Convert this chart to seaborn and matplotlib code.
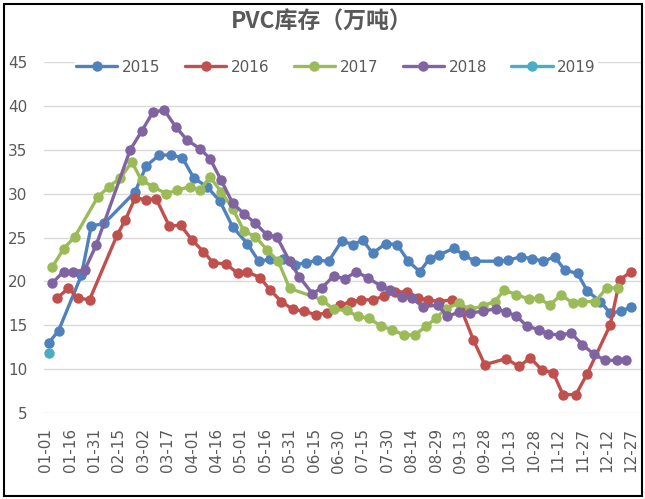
import pandas as pd
import seaborn as sns
import matplotlib.pyplot as plt
from matplotlib.lines import Line2D
from matplotlib.patches import Rectangle

# day of year (0 = 01-01) for each observation, and stock in 10k tons
days_2015 = [2, 8, 22, 28, 36, 55, 62, 70, 77, 84, 91, 99, 107, 115, 124, 131, 138, 146, 153, 160,
             167, 174, 182, 189, 195, 201, 209, 216, 223, 230, 236, 242, 251, 257, 264, 278, 284, 292,
             299, 306, 313, 319, 327, 333, 341, 347, 354, 360]
vals_2015 = [13.0, 14.4, 20.7, 26.3, 26.6, 30.2, 33.2, 34.4, 34.4, 34.1, 31.8, 30.8, 29.2, 26.2, 24.3, 22.3,
             22.5, 22.6, 21.9, 22.1, 22.4, 22.3, 24.6, 24.2, 24.7, 23.2, 24.3, 24.2, 22.3, 21.1, 22.6, 23.0,
             23.8, 23.0, 22.3, 22.3, 22.4, 22.8, 22.6, 22.3, 22.8, 21.3, 20.9, 18.9, 17.7, 16.4, 16.6, 17.1]

days_2016 = [7, 14, 20, 27, 44, 49, 55, 62, 68, 76, 83, 90, 97, 103, 111, 118, 124, 132, 138, 145,
             152, 159, 166, 173, 181, 188, 194, 201, 208, 215, 222, 229, 235, 242, 250, 256, 263, 270,
             283, 291, 298, 305, 312, 318, 326, 333, 347, 353, 360]
vals_2016 = [18.1, 19.2, 18.1, 17.9, 25.3, 27.0, 29.5, 29.3, 29.4, 26.3, 26.4, 24.7, 23.4, 22.1, 22.0, 20.9,
             21.1, 20.4, 19.0, 17.7, 16.8, 16.6, 16.2, 16.4, 17.3, 17.7, 17.9, 17.9, 18.3, 18.8, 18.8, 18.1,
             17.9, 17.7, 17.9, 16.6, 13.3, 10.5, 11.2, 10.3, 11.3, 9.9, 9.6, 7.1, 7.1, 9.5, 15.0, 20.2, 21.1]

days_2017 = [4, 11, 18, 32, 39, 46, 53, 59, 66, 74, 81, 89, 95, 101, 108, 115, 122, 129, 136, 143,
             150, 170, 177, 185, 192, 199, 206, 213, 220, 227, 234, 240, 246, 254, 261, 269, 276, 282,
             289, 297, 303, 310, 317, 324, 330, 338, 345, 352]
vals_2017 = [21.6, 23.7, 25.1, 29.6, 30.8, 31.8, 33.6, 31.5, 30.8, 30.0, 30.4, 30.8, 30.4, 31.9, 30.2, 28.3,
             25.7, 25.1, 23.6, 22.3, 19.2, 17.9, 16.8, 16.7, 16.0, 15.8, 14.9, 14.5, 13.9, 13.9, 14.9, 15.8,
             16.9, 17.5, 16.8, 17.2, 17.7, 19.0, 18.5, 18.0, 18.1, 17.3, 18.5, 17.5, 17.7, 17.7, 19.3, 19.2]

days_2018 = [4, 11, 17, 24, 31, 52, 59, 66, 73, 80, 87, 95, 101, 108, 115, 122, 129, 136, 142, 150,
             156, 164, 170, 177, 184, 191, 198, 206, 212, 219, 225, 232, 241, 247, 254, 261, 269, 277,
             283, 289, 296, 303, 309, 316, 323, 330, 337, 344, 351, 357]
vals_2018 = [19.8, 21.1, 21.1, 21.3, 24.1, 35.0, 37.1, 39.3, 39.5, 37.6, 36.1, 35.1, 34.0, 31.5, 28.9, 27.7,
             26.6, 25.3, 25.1, 22.3, 20.5, 18.6, 19.3, 20.6, 20.3, 21.1, 20.4, 19.5, 19.0, 18.2, 18.1, 17.1,
             17.3, 16.0, 16.5, 16.4, 16.6, 16.9, 16.5, 16.1, 14.9, 14.5, 14.0, 13.9, 14.1, 12.8, 11.7, 11.0,
             11.0, 11.0]

days_2019 = [2]
vals_2019 = [11.8]

years = ["2015", "2016", "2017", "2018", "2019"]
colors = ["#4F81BD", "#C0504D", "#9BBB59", "#8064A2", "#4BACC6"]
tick_labels = ["01-01", "01-16", "01-31", "02-15", "03-02", "03-17", "04-01", "04-16", "05-01",
               "05-16", "05-31", "06-15", "06-30", "07-15", "07-30", "08-14", "08-29", "09-13",
               "09-28", "10-13", "10-28", "11-12", "11-27", "12-12", "12-27"]

base = pd.Timestamp("2019-01-01")
frames = []
for y, d, v in zip(years, [days_2015, days_2016, days_2017, days_2018, days_2019],
                   [vals_2015, vals_2016, vals_2017, vals_2018, vals_2019]):
    frames.append(pd.DataFrame({"date": base + pd.to_timedelta(d, unit="D"), "value": v, "year": y}))
df = pd.concat(frames, ignore_index=True)

sns.set_theme(style="white")
plt.rcParams["font.family"] = ["DejaVu Sans"]
grey = "#595959"

fig = plt.figure(figsize=(6.45, 4.99), dpi=100)
ax = fig.add_axes([44 / 645, 1 - 413 / 499, 597 / 645, 351 / 499])

for y, c in zip(years, colors):
    sub = df[df["year"] == y]
    sns.lineplot(data=sub, x="date", y="value", color=c, linewidth=2.4, marker="o",
                 markersize=7.5, markeredgewidth=0, estimator=None, sort=False, ax=ax)

ax.set_ylim(5, 45)
ax.set_yticks(range(5, 50, 5))
ax.set_xlim(base - pd.Timedelta(days=1), base + pd.Timedelta(days=366))
ax.set_xticks([base + pd.Timedelta(days=15 * i) for i in range(len(tick_labels))])
ax.set_xticklabels(tick_labels, rotation=90)
ax.set_xlabel("")
ax.set_ylabel("")
ax.grid(axis="y", color="#d9d9d9", linewidth=1)
ax.grid(axis="x", visible=False)
for s in ax.spines.values():
    s.set_visible(False)
ax.tick_params(axis="both", length=0, labelcolor=grey, labelsize=11)
ax.tick_params(axis="y", pad=12)
ax.tick_params(axis="x", pad=11)

handles = [Line2D([0], [0], color=c, lw=2.4, marker="o", ms=7.5, markeredgewidth=0) for c in colors]
leg = fig.legend(handles, years, loc="center", bbox_to_anchor=(336 / 645, 1 - 67 / 499), ncol=5,
                 frameon=True, facecolor="white", edgecolor="white", framealpha=1,
                 fontsize=11, handlelength=2.7, handletextpad=0.3, columnspacing=1.6,
                 borderpad=0.1)
for t in leg.get_texts():
    t.set_color(grey)

fig.text(322 / 645, 1 - 22 / 499, "PVC库存（万吨）", ha="center", va="center", fontsize=16.5,
         fontweight="bold", color=grey, family=["Noto Sans CJK SC", "DejaVu Sans"])

fig.patches.append(Rectangle((4 / 645, 3 / 499), 638 / 645, 492 / 499, transform=fig.transFigure,
                             fill=False, edgecolor="black", linewidth=1.5))

fig.savefig("out.png", dpi=100)
